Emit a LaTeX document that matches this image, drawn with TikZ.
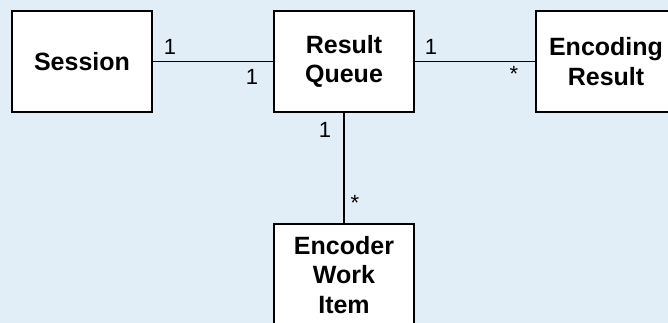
\documentclass[tikz,border=0pt]{standalone}
\usepackage{fontspec}
\setmainfont{Liberation Sans}
\definecolor{bgblue}{RGB}{225,237,247}
\begin{document}
\begin{tikzpicture}[x=1pt,y=1pt,
  classbox/.style={draw=black, line width=1.5pt, fill=white, inner sep=0pt,
    font=\fontsize{25}{29.5}\selectfont\bfseries, align=center},
  assoc/.style={line width=1.4pt},
  mult/.style={font=\fontsize{22}{26}\selectfont, inner sep=0pt}]
  \useasboundingbox (0,0) rectangle (668,323);
  \fill[bgblue] (0,0) rectangle (668,323);
  \clip (0,0) rectangle (668,323);
  % classes
  \node[classbox, minimum width=140pt, minimum height=101pt] (session) at (82,261.5) {Session};
  \node[classbox, minimum width=140pt, minimum height=101pt] (queue) at (344,261.5) {Result\\Queue};
  \node[classbox, minimum width=140pt, minimum height=101pt] (encres) at (606,261.5) {Encoding\\Result};
  \node[classbox, minimum width=140pt, minimum height=102pt] (work) at (344,48) {Encoder\\Work\\Item};
  % associations
  \draw[assoc] (session.east) -- (queue.west);
  \draw[assoc] (queue.east) -- (encres.west);
  \draw[assoc] (queue.south) -- (work.north);
  % multiplicities
  \node[mult] (m1) at (170,276) {1};
  \node[mult] (m2) at (252,246) {1};
  \node[mult] (m3) at (431,276) {1};
  \node[mult] (m4) at (514,249) {*};
  \node[mult] (m5) at (325,193) {1};
  \node[mult] (m6) at (355,120) {*};
\end{tikzpicture}
\end{document}
